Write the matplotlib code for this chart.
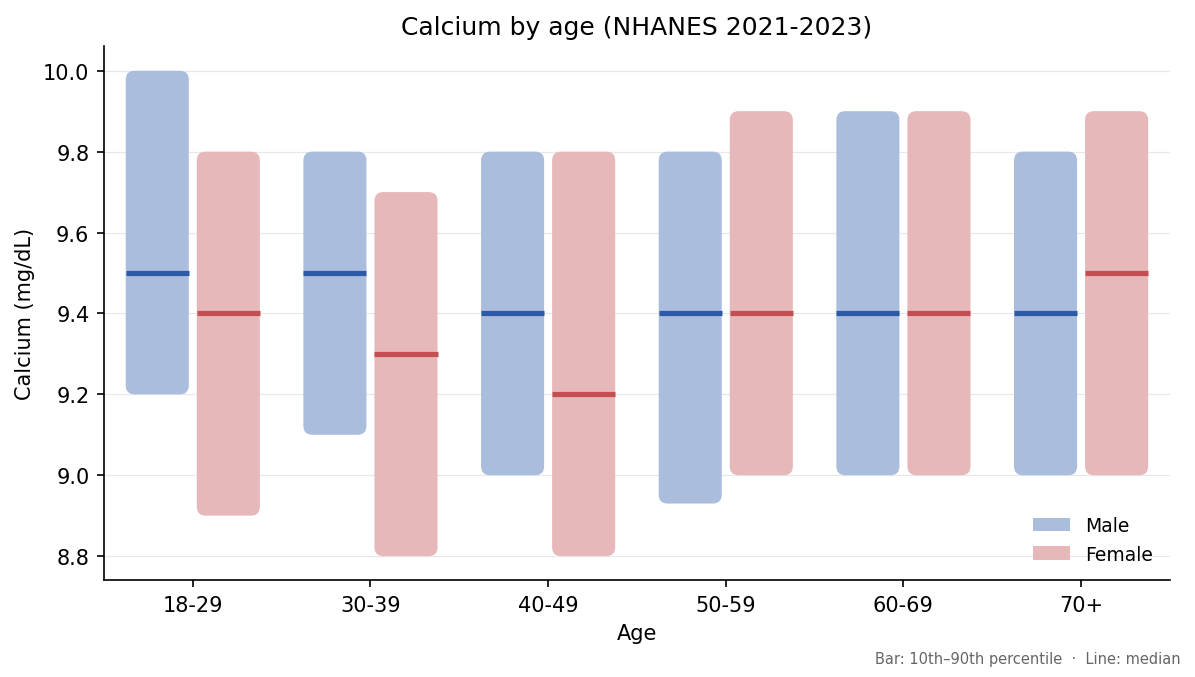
import numpy as np
import matplotlib.pyplot as plt
from matplotlib.patches import FancyBboxPatch, Patch

# datos
ages = ['18-29', '30-39', '40-49', '50-59', '60-69', '70+']
male_p10 = [9.2, 9.1, 9.0, 8.93, 9.0, 9.0]
male_p90 = [10.0, 9.8, 9.8, 9.8, 9.9, 9.8]
male_med = [9.5, 9.5, 9.4, 9.4, 9.4, 9.4]
female_p10 = [8.9, 8.8, 8.8, 9.0, 9.0, 9.0]
female_p90 = [9.8, 9.7, 9.8, 9.9, 9.9, 9.9]
female_med = [9.4, 9.3, 9.2, 9.4, 9.4, 9.5]

fig = plt.figure(figsize=(1195 / 150, 678 / 150), dpi=150)
ax = fig.add_axes([0.087, 0.1425, 0.892, 0.7875])

x = np.arange(len(ages))
w = 0.355
off = 0.2
rad = 0.05
aspect = 0.44

series = [
    (male_p10, male_p90, male_med, -off, '#abbddc', '#2c5aa8'),
    (female_p10, female_p90, female_med, off, '#e6b8b9', '#c44e52'),
]
for lo, hi, med, dx, fc, lc in series:
    for i in range(len(ages)):
        x0 = x[i] + dx - w / 2
        box = FancyBboxPatch((x0, lo[i]), w, hi[i] - lo[i],
                             boxstyle=f"round,pad=0,rounding_size={rad}",
                             mutation_aspect=aspect, fc=fc, ec='none', zorder=2)
        ax.add_patch(box)
        ax.plot([x0, x0 + w], [med[i], med[i]], color=lc, lw=2.5,
                solid_capstyle='butt', zorder=3)

ax.set_xlim(-0.5, len(ages) - 0.5)
ax.set_ylim(8.74, 10.06)
ax.set_xticks(x)
ax.set_xticklabels(ages)
ax.set_yticks([8.8, 9.0, 9.2, 9.4, 9.6, 9.8, 10.0])
ax.tick_params(labelsize=10)
ax.yaxis.grid(True, color='#e8e8e8', lw=0.6)
ax.set_axisbelow(True)
for s in ['top', 'right']:
    ax.spines[s].set_visible(False)

ax.set_title('Calcium by age (NHANES 2021-2023)', fontsize=12)
ax.set_xlabel('Age', fontsize=10)
ax.set_ylabel('Calcium (mg/dL)', fontsize=10)

handles = [Patch(fc='#abbddc', label='Male'), Patch(fc='#e6b8b9', label='Female')]
ax.legend(handles=handles, loc='lower right', frameon=False, fontsize=9)

fig.text(0.988, 0.02, 'Bar: 10th\u201390th percentile  \u00b7  Line: median',
         ha='right', fontsize=7, color='#666666')

fig.savefig('out.png', dpi=150)
